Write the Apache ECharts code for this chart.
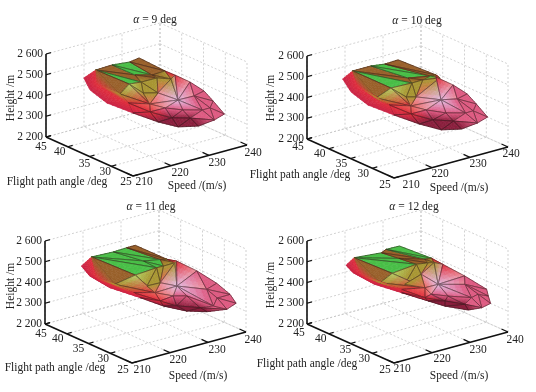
<!DOCTYPE html>
<html><head><meta charset="utf-8">
<style>html,body{margin:0;padding:0;background:#fff}#c{width:536px;height:392px}</style>
<script src="https://cdn.jsdelivr.net/npm/echarts@6/dist/echarts.min.js"></script>
</head><body><div id="c"></div>
<script>
const speedTicks=[210,220,230,240];
const gammaTicks=[25,30,35,40,45];
const heightTicks=[2200,2300,2400,2500,2600];
const heightLabels=['2 200','2 300','2 400','2 500','2 600'];
const alphas=[9,10,11,12];
const meshHeight=[2450,2500,2500,2500,2500,2480,2500,2500,2500,2470,2440,2430,2490,2470,2450,2400,2420,2450,2420,2390,2360,2320,2300,2290,2290,2300,2320,2350,2400,2400,2350,2370,2380,2330,2340,2340,2440,2370,2340];
const speed9=[218.8,219.9,224.4,228.4,231.4,232.4,227.3,224.5,222.9,222.5,223.8,220.4,227.8,231.2,225.5,223.9,228.5,234.8,237,238.3,238.4,238.5,236.2,232.1,228.5,226.3,223.9,221,219.2,234.1,234.1,229.4,226.5,230.7,227,236.9,219.5,223,225.6];
const gamma9=[44,42.2,42.4,41.8,42.3,37.2,35.7,37.2,34.4,36.8,34.7,37.1,35,34.8,32.8,33.3,30.8,37,35.5,33.4,31.4,28.9,29.2,29.3,30.8,33.4,37.2,40.6,42.9,32,30.1,30.5,32,29.9,30.9,30.8,41.6,37.5,34.7];
const speed10=[218.8,219.6,224.4,227.4,231.1,233.3,230.5,226.1,224.9,221.9,223.4,218.9,228.6,233.6,224.3,223.9,229.6,234.8,237,238.3,238.4,238.5,236.2,232.1,228.5,226.3,223.9,221,219.2,234.1,234.1,229.4,226.5,230.7,227,236.9,219.5,223,225.6];
const gamma10=[44.5,42.9,42.9,42.3,42.5,35.7,34.5,35.8,33.9,36.1,33.9,36.9,34.6,35.1,32.4,33.3,31.3,37,35,32.9,30.9,28.4,28.7,28.8,30.3,33.4,37.2,40.6,42.9,31.5,29.6,30,32,29.4,30.9,30.3,41.6,37.5,34.7];
const speed11=[218.2,219.4,224.8,228.5,230.8,232.4,229.7,226.4,226.1,222.2,222.4,218.5,228.6,233.2,225,224.3,228.8,235.6,237.6,238.6,239,239.8,237.6,234.2,231.1,228.4,226.1,222.5,219.7,234,232.8,230.6,227.6,231.5,227.6,237.1,217.1,223,226.7];
const gamma11=[43.8,42.5,42.2,42.4,42.4,36.5,35.7,36.7,33.4,34.9,32.4,36.4,34,35.4,31.6,32.2,31.1,37.1,34.2,30.5,27.8,27.1,27.3,28.9,30.9,33.8,37.2,41,43.2,28.8,26.2,30.4,30.9,28.1,30.1,29.1,39.3,36.1,33.1];
const speed12=[218.9,219.2,225.5,227.5,230.9,233.2,230.2,226.3,227,222,222.3,219.6,230.2,232.8,227.9,227.4,229.3,235.1,236.7,237.7,237.8,238.5,237,234.7,232.3,230.7,227.8,224.2,221.1,235.2,235.2,230.4,227.6,233.2,230.4,238.3,218.6,225.2,228.3];
const gamma12=[43.8,42.2,41.4,42.1,42,36.6,35.6,38.1,34.7,35.9,33.3,36.6,34.8,35.7,34.4,33.1,31.7,35.7,32.1,27.9,27.6,27.7,28.4,29.5,32.8,35.2,38.9,41.9,44.1,30.7,29.2,30.4,31.8,29,31.1,30.4,40,36.6,33.9];
const faces=[[0,1,36],[0,36,28],[28,36,27],[36,37,27],[1,2,7],[1,7,8],[2,3,6],[2,6,7],[3,4,5],[3,5,6],[7,6,12],[7,12,8],[1,8,9],[1,9,11],[1,11,36],[6,5,13],[6,13,12],[8,12,14],[8,14,10],[8,10,9],[9,10,15],[9,15,11],[11,15,37],[11,37,36],[12,13,14],[13,16,14],[14,16,15],[5,17,13],[13,17,16],[17,18,16],[18,29,16],[18,19,29],[19,20,29],[20,21,35],[20,35,29],[21,22,35],[29,35,30],[29,30,16],[16,30,31],[16,31,32],[16,32,15],[15,32,38],[15,38,37],[37,38,26],[26,38,25],[38,34,25],[38,32,34],[32,31,34],[31,33,34],[31,30,33],[30,22,33],[35,22,30],[22,23,33],[33,23,24],[33,24,34],[34,24,25],[27,37,26],[10,14,15]];
const tones9=['CRR','CRC','CRC','RRC','BBB','BBB','GGG','GGG','BBB','BBB','BBB','BBO','GGG','BBB','BBR','BOO','BOO','OOO','OOO','OOY','YOR','YRO','ORR','ORR','OOS','OLK','KLS','RRO','OKL','RKL','PKL','PPP','PPP','PPP','PPP','PPP','PPP','PPL','LPP','LPP','LKS','SKR','SRR','RRC','CRD','RDD','RPD','PPD','PDD','PPD','PPP','PPP','PDD','DDD','DDD','DDD','CRC','OOS'];
const tones10=tones9.map((t,i)=>({16:'GOO'})[i]||t);
const tones11=tones9.map((t,i)=>({4:'GGG',5:'GGG',10:'GGG',11:'GGG',17:'OOO'})[i]||t);
const tones12=tones9.map((t,i)=>({4:'GGG',5:'GGG',6:'BBB',7:'BBB',8:'GGG',9:'GGG',11:'BBB'})[i]||t);
const plainFaces=[0,1,2,3,14,23,56];
const palette={R:[224,46,60],C:[200,35,70],B:[152,96,42],G:[72,190,70],O:[168,150,50],Y:[178,208,98],P:[222,90,130],L:[226,188,226],K:[236,142,152],S:[236,100,90],D:[138,30,60]};
const panelData=[
 {speed:speed9,gamma:gamma9,tones:tones9},
 {speed:speed10,gamma:gamma10,tones:tones10},
 {speed:speed11,gamma:gamma11,tones:tones11},
 {speed:speed12,gamma:gamma12,tones:tones12}];
const layout=[
 {o:[133,176],title:[150,16],fl:[57,182],sp:[197,186],he:[11,98],gOff:[[-7,6],[-6,6],[-5,7],[-8,5],[-5,10]],sOff:[[11,6],[9,7],[8,8],[6,8]]},
 {o:[394,178],title:[412,17],fl:[300,175],sp:[459,188],he:[271,98],gOff:[[-9,7],[-9,6],[-9,5],[-9,5],[-9,8]],sOff:[[17,7],[8,6],[8,7],[3,7]]},
 {o:[132,363],title:[146,203],fl:[55,368],sp:[198,376],he:[11,286],gOff:[[-9,7],[-7,6],[-10,5],[-9,5],[-4,10]],sOff:[[10,7],[8,7],[9,8],[7,8]]},
 {o:[394,363],title:[409,203],fl:[307,364],sp:[459,376],he:[271,285],gOff:[[-9,7],[-8,6],[-5,6],[-8,5],[-8,9]],sOff:[[8,6],[10,6],[8,8],[7,8]]}];
const FONT='11.5px "Liberation Serif"';
const PS=114,PSV=31,PG=87,PGV=39,PH=83;
function proj(sp,ga,h){const s=(sp-210)/30,g=(ga-25)/20,z=(h-2200)/400;return [s*PS-g*PG,s*PSV+g*PGV+z*PH];}
const S0=210,S1=240,G0=25,G1=45,H0=2200,H1=2600;
const grids=[],xA=[],yA=[],series=[],titles=[];
layout.forEach((L,i)=>{
 grids.push({left:L.o[0]-PG,top:L.o[1]-(PSV+PGV+PH),width:PG+PS,height:PSV+PGV+PH});
 xA.push({type:'value',gridIndex:i,min:-PG,max:PS,show:false});
 yA.push({type:'value',gridIndex:i,min:0,max:PSV+PGV+PH,show:false});
 titles.push({text:'{a|α} = '+alphas[i]+' deg',left:L.title[0],top:L.title[1]-7,textAlign:'center',
   textStyle:{rich:{a:{fontFamily:'Liberation Serif',fontSize:11.5,fontStyle:'italic',color:'#222'}},fontFamily:'Liberation Serif',fontSize:11.5,fontWeight:'normal',color:'#222'}});
 const gl=[];
 heightTicks.forEach(h=>{gl.push([S0,G1,h,S1,G1,h]);gl.push([S1,G1,h,S1,G0,h]);});
 speedTicks.forEach(s=>{gl.push([s,G1,H0,s,G1,H1]);gl.push([s,G0,H0,s,G1,H0]);});
 gammaTicks.forEach(g=>{gl.push([S1,g,H0,S1,g,H1]);gl.push([S0,g,H0,S1,g,H0]);});
 series.push({type:'custom',name:'grid'+i,coordinateSystem:'cartesian2d',xAxisIndex:i,yAxisIndex:i,silent:true,z:1,animation:false,clip:false,
  data:gl.map((_,k)=>[k]),
  renderItem:(p,api)=>{const r=gl[p.dataIndex],a=api.coord(proj(r[0],r[1],r[2])),b=api.coord(proj(r[3],r[4],r[5]));
   return {type:'line',shape:{x1:a[0],y1:a[1],x2:b[0],y2:b[1]},style:{stroke:'#c6c6c6',lineWidth:.8,lineDash:[2,2],fill:null}};}});
 const ax=[[S0,G1,H0,S0,G1,H1],[S0,G1,H0,S0,G0,H0],[S0,G0,H0,S1,G0,H0]];
 heightTicks.forEach(h=>ax.push([S0,G1,h,S0+1.3,G1,h]));
 gammaTicks.forEach(g=>ax.push([S0,g,H0,S0+1.3,g,H0]));
 speedTicks.forEach(s=>ax.push([s,G0,H0,s,G0+1.5,H0]));
 series.push({type:'custom',name:'axes'+i,coordinateSystem:'cartesian2d',xAxisIndex:i,yAxisIndex:i,silent:true,z:2,animation:false,clip:false,
  data:ax.map((_,k)=>[k]),
  renderItem:(p,api)=>{const r=ax[p.dataIndex],a=api.coord(proj(r[0],r[1],r[2])),b=api.coord(proj(r[3],r[4],r[5]));
   return {type:'line',shape:{x1:a[0],y1:a[1],x2:b[0],y2:b[1]},style:{stroke:'#111',lineWidth:p.dataIndex<3?1.6:1.2,fill:null}};}});
 const D=panelData[i],N=5;
 series.push({type:'custom',name:'surface'+i,coordinateSystem:'cartesian2d',xAxisIndex:i,yAxisIndex:i,silent:true,z:3,animation:false,clip:false,
  data:faces.map((_,k)=>[k]),
  renderItem:(p,api)=>{const f=faces[p.dataIndex],t=D.tones[p.dataIndex];
   const P=f.map(v=>api.coord(proj(D.speed[v],D.gamma[v],meshHeight[v])));
   const C=[...t].map(c=>palette[c]);const ch=[];
   const bary=(a,b)=>{const c=N-a-b,w=[a/N,b/N,c/N];return {pt:[0,1].map(k=>w[0]*P[0][k]+w[1]*P[1][k]+w[2]*P[2][k]),col:[0,1,2].map(k=>w[0]*C[0][k]+w[1]*C[1][k]+w[2]*C[2][k])};};
   const tri=(u,v,w)=>{const col=[0,1,2].map(k=>Math.round((u.col[k]+v.col[k]+w.col[k])/3));const s='rgb('+col.join(',')+')';
    ch.push({type:'polygon',shape:{points:[u.pt,v.pt,w.pt]},style:{fill:s,stroke:s,lineWidth:.6}});};
   for(let a=0;a<N;a++)for(let b=0;b<N-a;b++){tri(bary(a,b),bary(a+1,b),bary(a,b+1));if(a+b<N-1)tri(bary(a+1,b),bary(a+1,b+1),bary(a,b+1));}
   if(!plainFaces.includes(p.dataIndex))ch.push({type:'polygon',shape:{points:P},style:{fill:null,stroke:'rgba(45,25,25,.72)',lineWidth:.7}});
   return {type:'group',children:ch};}});
 const labels=[];
 heightTicks.forEach((h,k)=>labels.push({pos:proj(S0,G1,h),off:[-3,0],text:heightLabels[k],align:'right'}));
 gammaTicks.forEach((g,k)=>labels.push({pos:proj(S0,g,H0),off:L.gOff[k],text:String(g),align:'center'}));
 speedTicks.forEach((s,k)=>labels.push({pos:proj(s,G0,H0),off:L.sOff[k],text:String(s),align:'center'}));
 series.push({type:'custom',name:'labels'+i,coordinateSystem:'cartesian2d',xAxisIndex:i,yAxisIndex:i,silent:true,z:4,animation:false,clip:false,
  data:labels.map((_,k)=>[k]),
  renderItem:(p,api)=>{const r=labels[p.dataIndex],a=api.coord(r.pos);
   return {type:'text',style:{text:r.text,x:a[0]+r.off[0],y:a[1]+r.off[1],fill:'#222',font:FONT,align:r.align,verticalAlign:'middle'}};}});
});
const chart=echarts.init(document.getElementById('c'),null,{renderer:'canvas'});
chart.setOption({animation:false,backgroundColor:'#fff',title:titles,grid:grids,xAxis:xA,yAxis:yA,series,
 graphic:layout.flatMap(L=>[
  {type:'text',x:L.fl[0],y:L.fl[1],silent:true,style:{text:'Flight path angle /deg',font:FONT,fill:'#222',align:'center',verticalAlign:'middle'}},
  {type:'text',x:L.sp[0],y:L.sp[1],silent:true,style:{text:'Speed /(m/s)',font:FONT,fill:'#222',align:'center',verticalAlign:'middle'}},
  {type:'text',x:L.he[0],y:L.he[1],rotation:Math.PI/2,silent:true,style:{text:'Height /m',font:FONT,fill:'#222',align:'center',verticalAlign:'middle'}}
 ])});
</script></body></html>
